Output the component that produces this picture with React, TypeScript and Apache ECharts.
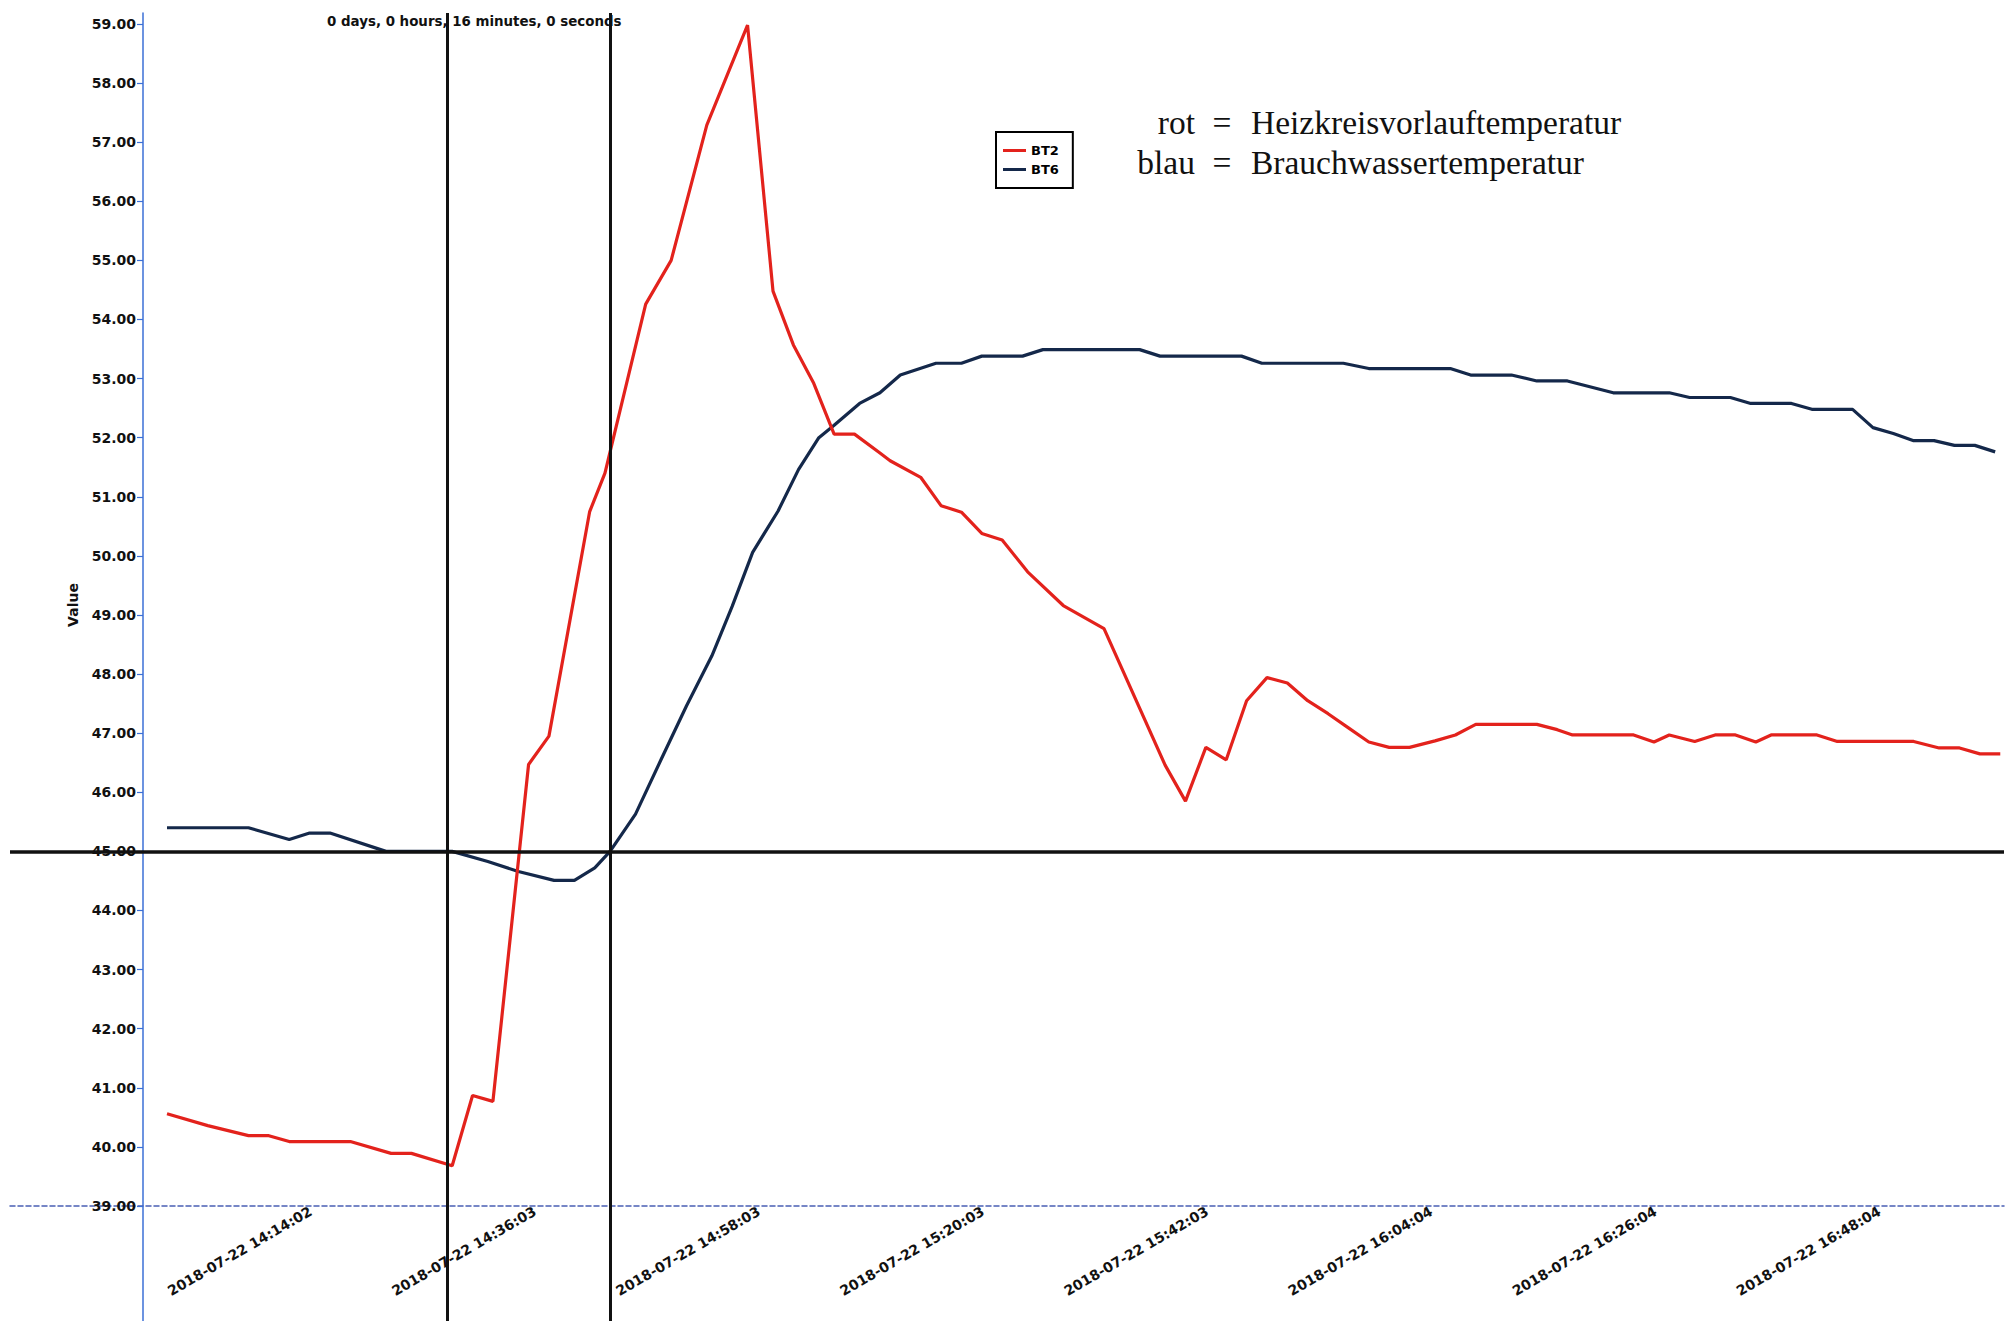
import React, { useEffect, useRef } from "react";
import * as echarts from "echarts";

const DATE = "2018-07-22";

// BT2 (rot) vertices
const bt2Times = ["14:14:02","14:18:02","14:22:02","14:24:02","14:26:02","14:32:02","14:36:02","14:38:02","14:42:02","14:44:02","14:46:02","14:49:32","14:51:32","14:55:32","14:57:02","15:01:02","15:03:32","15:07:02","15:11:02","15:13:32","15:15:32","15:17:32","15:19:32","15:21:32","15:24:02","15:25:02","15:28:02","15:30:02","15:32:02","15:34:02","15:36:02","15:38:32","15:42:02","15:46:02","15:52:02","15:54:02","15:56:02","15:58:02","16:00:02","16:02:02","16:04:02","16:06:02","16:08:02","16:10:02","16:12:02","16:14:02","16:16:02","16:18:32","16:20:32","16:22:32","16:28:32","16:30:32","16:32:02","16:38:02","16:40:02","16:41:32","16:44:02","16:46:02","16:48:02","16:50:02","16:51:32","16:56:02","16:58:02","17:05:32","17:08:02","17:10:02","17:12:02","17:14:02"];
const bt2Values = [40.56,40.36,40.19,40.19,40.09,40.09,39.89,39.89,39.68,40.87,40.77,46.47,46.95,50.75,51.40,54.26,55.00,57.29,58.98,54.48,53.57,52.92,52.06,52.06,51.74,51.61,51.33,50.85,50.74,50.38,50.27,49.73,49.16,48.77,46.46,45.85,46.76,46.55,47.55,47.94,47.85,47.55,47.33,47.09,46.85,46.76,46.76,46.87,46.97,47.15,47.15,47.06,46.97,46.97,46.85,46.97,46.86,46.97,46.97,46.85,46.97,46.97,46.86,46.86,46.75,46.75,46.65,46.65];

// BT6 (blau) vertices
const bt6Times = ["14:14:02","14:22:02","14:26:02","14:28:02","14:30:02","14:35:32","14:42:02","14:45:32","14:48:32","14:52:02","14:54:02","14:56:02","14:57:32","15:00:02","15:02:32","15:05:02","15:07:32","15:09:32","15:11:32","15:14:02","15:16:02","15:18:02","15:19:32","15:22:02","15:24:02","15:26:02","15:29:32","15:32:02","15:34:02","15:38:02","15:40:02","15:49:32","15:51:32","15:59:32","16:01:32","16:09:32","16:12:02","16:20:02","16:22:02","16:26:02","16:28:32","16:31:32","16:36:02","16:41:32","16:43:32","16:47:32","16:49:32","16:53:32","16:55:32","16:59:32","17:01:32","17:03:32","17:05:32","17:07:32","17:09:32","17:11:32","17:13:32"];
const bt6Values = [45.40,45.40,45.20,45.31,45.31,45.00,45.00,44.83,44.66,44.51,44.51,44.72,45.00,45.63,46.55,47.46,48.31,49.15,50.06,50.76,51.46,52.00,52.21,52.58,52.76,53.06,53.26,53.26,53.38,53.38,53.49,53.49,53.38,53.38,53.26,53.26,53.17,53.17,53.06,53.06,52.96,52.96,52.76,52.76,52.68,52.68,52.58,52.58,52.48,52.48,52.17,52.07,51.95,51.95,51.87,51.87,51.76];

const xTickTimes = ["14:14:02","14:36:03","14:58:03","15:20:03","15:42:03","16:04:04","16:26:04","16:48:04"];
const yTickValues = [39,40,41,42,43,44,45,46,47,48,49,50,51,52,53,54,55,56,57,58,59];
const markerTimes = ["14:41:32","14:57:32"];
const referenceValue = 45;
const xRange = ["13:58:37", "17:14:24"];
const yRange = [37.054, 59.186];

const seriesNames = ["BT2", "BT6"];
const durationText = "0 days, 0 hours, 16 minutes, 0 seconds";
const noteRows = [
  ["rot", "Heizkreisvorlauftemperatur"],
  ["blau", "Brauchwassertemperatur"],
];

const RED = "#e3221c";
const NAVY = "#14284a";
const AXIS_BLUE = "#3b6fd6";
const SANS = '"DejaVu Sans", Verdana, sans-serif';
const SERIF = '"Liberation Serif", "Times New Roman", serif';

const ts = (t: string) => new Date(`${DATE}T${t}`).getTime();
const pad = (n: number) => String(n).padStart(2, "0");
const fmt = (v: number) => {
  const d = new Date(v);
  return `${d.getFullYear()}-${pad(d.getMonth() + 1)}-${pad(d.getDate())} ${pad(d.getHours())}:${pad(d.getMinutes())}:${pad(d.getSeconds())}`;
};

export default function App() {
  const ref = useRef<HTMLDivElement>(null);
  useEffect(() => {
    document.body.style.margin = "0";
    if (!ref.current) return;
    const chart = echarts.init(ref.current, undefined, { renderer: "svg" });
    const bt2 = bt2Times.map((t, i) => [ts(t), bt2Values[i]]);
    const bt6 = bt6Times.map((t, i) => [ts(t), bt6Values[i]]);

    const noteGraphics: any[] = [];
    noteRows.forEach((row, i) => {
      const y = 122 + i * 40;
      noteGraphics.push(
        { type: "text", x: 1195, y, style: { text: row[0], fontFamily: SERIF, fontSize: 33.5, fill: "#111", align: "right", verticalAlign: "middle" } },
        { type: "text", x: 1222, y, style: { text: "=", fontFamily: SERIF, fontSize: 33.5, fill: "#111", align: "center", verticalAlign: "middle" } },
        { type: "text", x: 1251, y, style: { text: row[1], fontFamily: SERIF, fontSize: 33.5, fill: "#111", align: "left", verticalAlign: "middle" } }
      );
    });

    chart.setOption({
      animation: false,
      backgroundColor: "#ffffff",
      grid: { left: 10, right: 8, top: 13, bottom: 0, containLabel: false },
      legend: {
        data: seriesNames,
        orient: "vertical",
        left: 996,
        top: 132,
        icon: "rect",
        itemWidth: 23,
        itemHeight: 3,
        itemGap: 6,
        padding: [12, 14, 12, 7],
        borderColor: "#000",
        borderWidth: 2,
        borderRadius: 0,
        textStyle: { fontFamily: SANS, fontWeight: "bold", fontSize: 13, color: "#000" },
      },
      xAxis: {
        type: "value",
        min: ts(xRange[0]),
        max: ts(xRange[1]),
        offset: -115,
        axisLine: { show: true, onZero: false, lineStyle: { color: "#4a5fb4", width: 1.5, type: [5, 3] } },
        axisTick: { show: false },
        splitLine: { show: false },
        axisLabel: {
          customValues: xTickTimes.map(ts),
          formatter: (v: number) => fmt(v),
          rotate: 30,
          align: "left",
          verticalAlign: "bottom",
          margin: 95,
          padding: [0, 0, 0, 6],
          fontFamily: SANS,
          fontWeight: "bold",
          fontSize: 14,
          color: "#111",
          hideOverlap: false,
        },
      },
      yAxis: {
        type: "value",
        min: yRange[0],
        max: yRange[1],
        offset: -133,
        axisLine: { show: true, onZero: false, lineStyle: { color: AXIS_BLUE, width: 1.5 } },
        axisTick: { show: true, customValues: yTickValues, length: 6, lineStyle: { color: AXIS_BLUE, width: 1.2 } },
        splitLine: { show: false },
        axisLabel: {
          customValues: yTickValues,
          formatter: (v: number) => v.toFixed(2),
          margin: 7,
          fontFamily: SANS,
          fontWeight: "bold",
          fontSize: 14,
          color: "#111",
        },
      },
      series: [
        {
          name: seriesNames[0],
          type: "line",
          data: bt2,
          symbol: "none",
          lineStyle: { color: RED, width: 3.2 },
          itemStyle: { color: RED },
          z: 3,
          markLine: {
            symbol: "none",
            silent: true,
            label: { show: false },
            lineStyle: { color: "#111", width: 3, type: "solid" },
            data: [
              ...markerTimes.map((t) => ({ xAxis: ts(t) })),
              { yAxis: referenceValue, lineStyle: { color: "#111", width: 3.5, type: "solid" } },
            ],
          },
        },
        {
          name: seriesNames[1],
          type: "line",
          data: bt6,
          symbol: "none",
          lineStyle: { color: NAVY, width: 3.2 },
          itemStyle: { color: NAVY },
          z: 2,
        },
      ],
      graphic: [
        { type: "text", x: 73, y: 605, rotation: Math.PI / 2, style: { text: "Value", fontFamily: SANS, fontWeight: "bold", fontSize: 14, fill: "#111", align: "center", verticalAlign: "middle" } },
        { type: "text", x: 327, y: 21, style: { text: durationText, fontFamily: SANS, fontWeight: "bold", fontSize: 13.4, fill: "#111", align: "left", verticalAlign: "middle" } },
        ...noteGraphics,
      ],
    });
    return () => chart.dispose();
  }, []);
  return <div ref={ref} style={{ width: 2012, height: 1321 }} />;
}
